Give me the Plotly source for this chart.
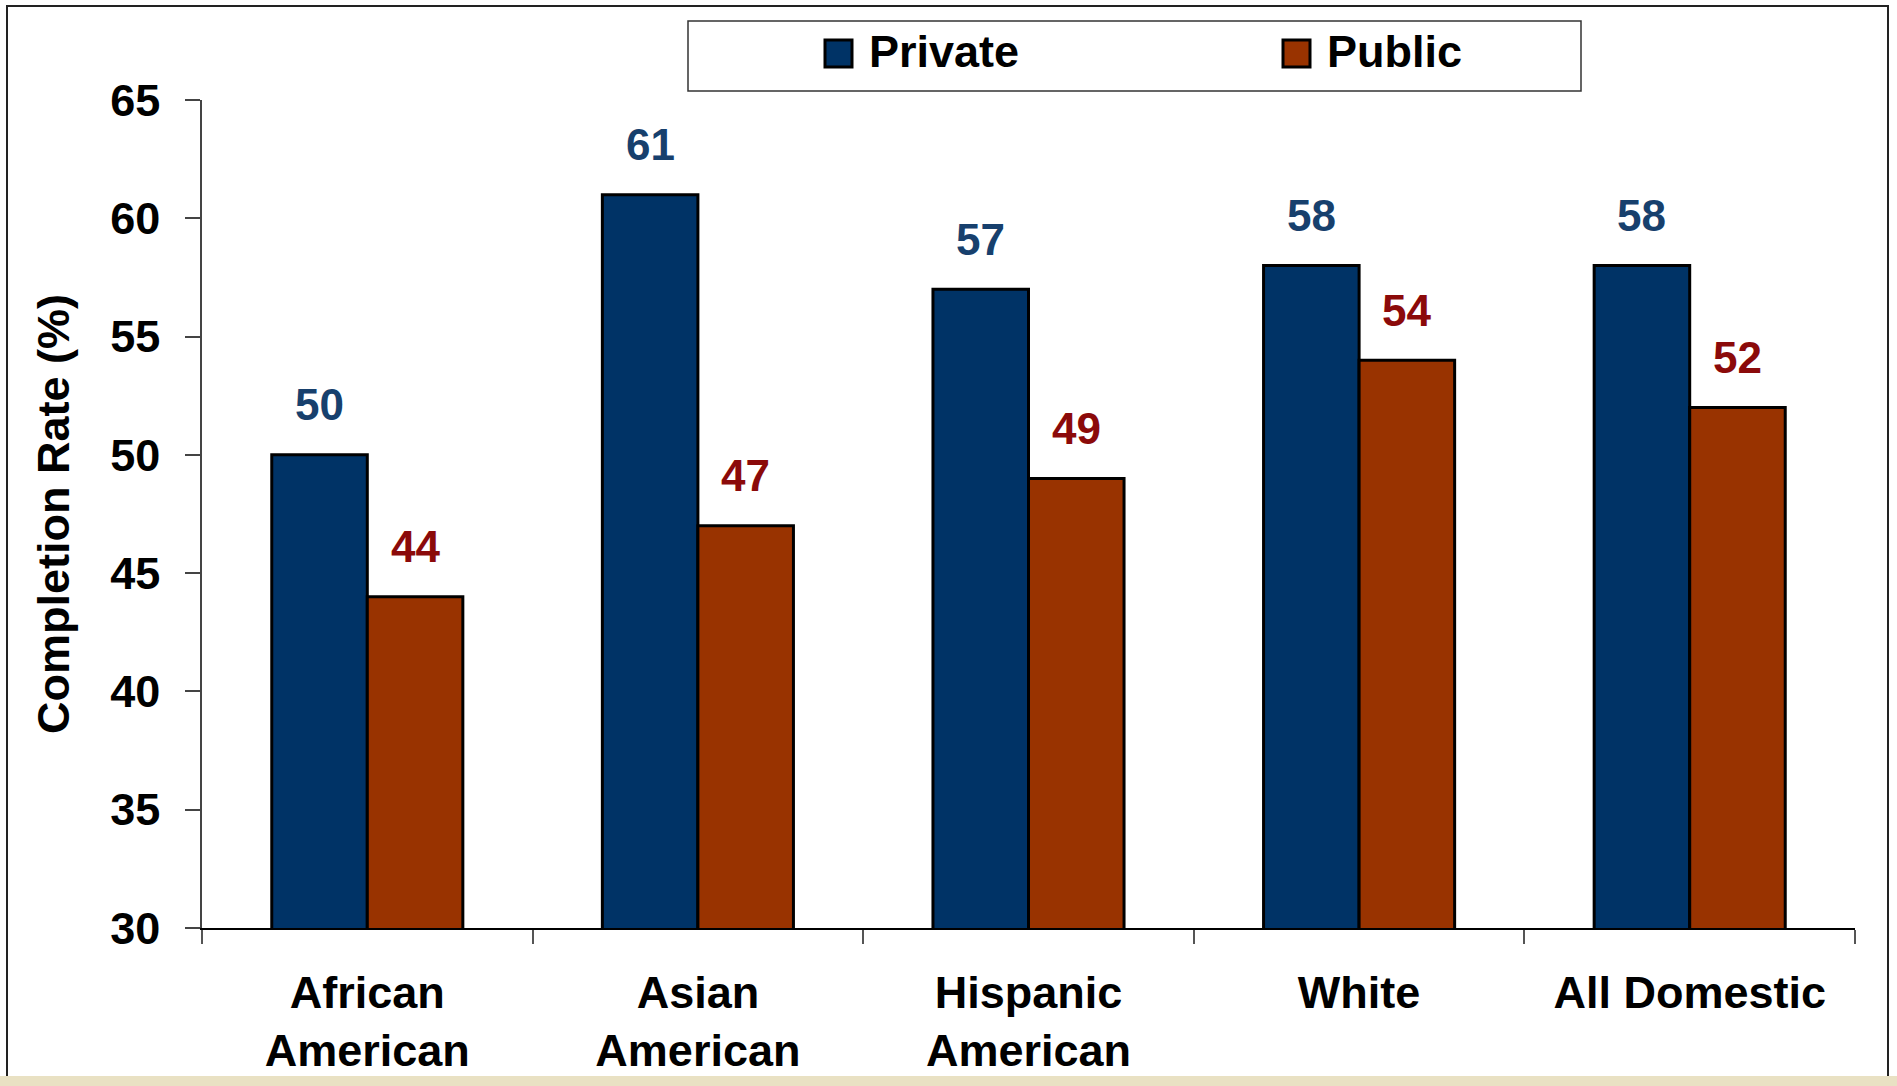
import plotly.graph_objects as go

categories = ["African<br>American", "Asian<br>American", "Hispanic<br>American", "White", "All Domestic"]
private_vals = [50, 61, 57, 58, 58]
public_vals = [44, 47, 49, 54, 52]
series_names = ["Private", "Public"]
y_ticks = [30, 35, 40, 45, 50, 55, 60, 65]

W, H = 1897, 1086
L, R, T, B = 202, 1855, 100, 928
PW, PH = R - L, B - T

def px(x):
    return (x - L) / PW

def py(y):
    return (B - y) / PH

PRIV_COL = "#003366"
PUB_COL = "#993300"
PRIV_TXT = "#17406D"
PUB_TXT = "#8B0A0A"
FONT = "Liberation Sans, Arial, sans-serif"
FS = 45

fig = go.Figure()
fig.add_bar(x=categories, y=private_vals, name=series_names[0], marker=dict(color=PRIV_COL, line=dict(color="black", width=3)), showlegend=False)
fig.add_bar(x=categories, y=public_vals, name=series_names[1], marker=dict(color=PUB_COL, line=dict(color="black", width=3)), showlegend=False)

off = PW / len(categories) * 0.289 / 2
for c, v in zip(categories, private_vals):
    fig.add_annotation(x=c, y=v, xref="x", yref="y", text=f"<b>{v}</b>", showarrow=False,
                       xshift=-off, yshift=50, font=dict(family=FONT, size=44, color=PRIV_TXT))
for c, v in zip(categories, public_vals):
    fig.add_annotation(x=c, y=v, xref="x", yref="y", text=f"<b>{v}</b>", showarrow=False,
                       xshift=off, yshift=50, font=dict(family=FONT, size=44, color=PUB_TXT))

shapes = []
# outer frame
shapes.append(dict(type="rect", xref="paper", yref="paper", x0=px(7), x1=px(1888), y0=py(1082), y1=py(6),
                   line=dict(color="#222", width=2), fillcolor="rgba(0,0,0,0)", layer="below"))
# beige strip at bottom
shapes.append(dict(type="rect", xref="paper", yref="paper", x0=px(0), x1=px(1897), y0=py(1086), y1=py(1076),
                   line=dict(width=0), fillcolor="#E9E1C3", layer="above"))
# legend box
shapes.append(dict(type="rect", xref="paper", yref="paper", x0=px(688), x1=px(1581), y0=py(91), y1=py(21),
                   line=dict(color="#333", width=1.5), fillcolor="white"))
# legend swatches
for (x0, col) in [(825, PRIV_COL), (1283, PUB_COL)]:
    shapes.append(dict(type="rect", xref="paper", yref="paper", x0=px(x0), x1=px(x0 + 27), y0=py(67), y1=py(40),
                       line=dict(color="black", width=3), fillcolor=col))
for (x0, name) in [(867, series_names[0]), (1325, series_names[1])]:
    fig.add_annotation(x=px(x0), y=py(52), xref="paper", yref="paper", xanchor="left", yanchor="middle",
                       text=f"<b>{name}</b>", showarrow=False, font=dict(family=FONT, size=FS, color="black"))

fig.update_layout(
    width=W, height=H,
    margin=dict(l=L, r=W - R, t=T, b=H - B, autoexpand=False),
    paper_bgcolor="white", plot_bgcolor="white",
    barmode="group", bargap=0.422, bargroupgap=0,
    shapes=shapes,
    font=dict(family=FONT, size=FS, color="black"),
)
fig.update_xaxes(
    showline=True, linecolor="black", linewidth=1.5,
    ticks="outside", tickson="boundaries", ticklen=14, tickcolor="#555", tickwidth=1.5,
    tickfont=dict(family=FONT, size=FS, color="black"),
    tickprefix="<b>", ticksuffix="</b>", ticklabelstandoff=24,
    showgrid=False, zeroline=False,
)
fig.update_yaxes(
    range=[30, 65], tickvals=y_ticks, ticktext=[f"<b>{t}</b>" for t in y_ticks],
    showline=True, linecolor="#444", linewidth=1.5,
    ticks="outside", ticklen=15, tickcolor="#444", tickwidth=1.5,
    tickfont=dict(family=FONT, size=FS, color="black"), ticklabelstandoff=16,
    showgrid=False, zeroline=False,
    title=dict(text="<b>Completion Rate (%)</b>", font=dict(family=FONT, size=FS, color="black"), standoff=26),
)

fig.write_html("out.html")
